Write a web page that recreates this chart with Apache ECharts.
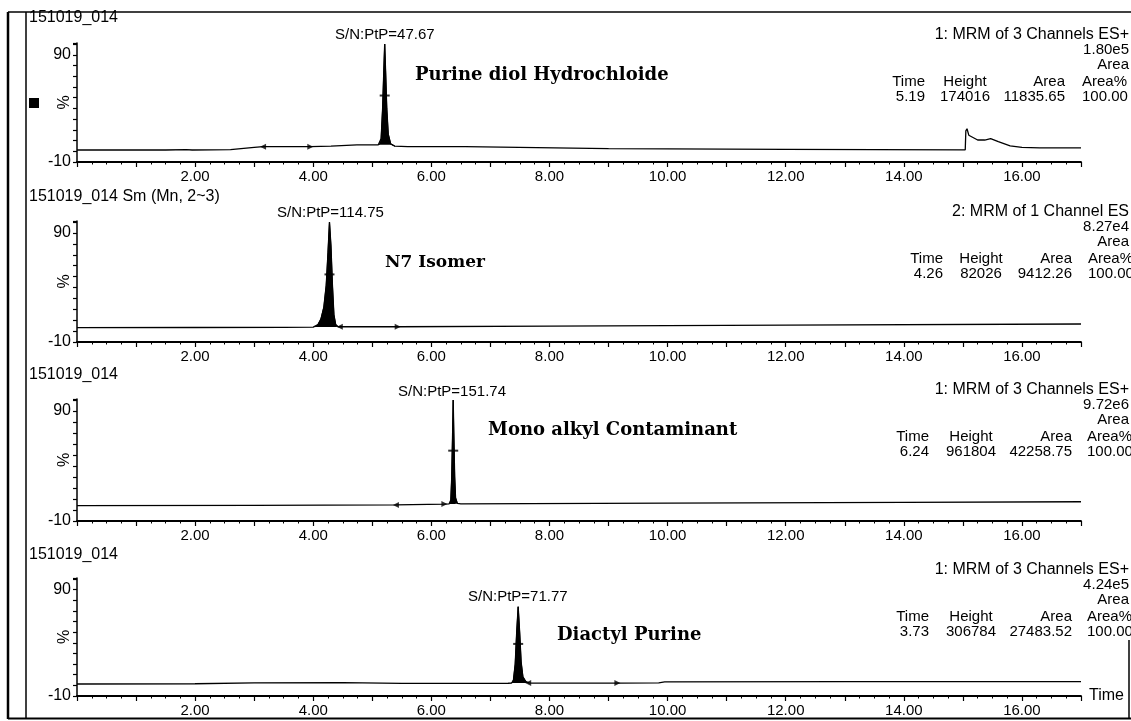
<!DOCTYPE html>
<html>
<head>
<meta charset="utf-8">
<script src="https://cdn.jsdelivr.net/npm/echarts@6/dist/echarts.min.js"></script>
<style>html,body{margin:0;padding:0;background:#fff}#c{width:1131px;height:721px}</style>
</head>
<body>
<div id="c"></div>
<script>
// ---------- DATA ----------
const xLabelValues = [2, 4, 6, 8, 10, 12, 14, 16];
const yLabelValues = [-10, 90];

const panelTitles = ['151019_014', '151019_014 Sm (Mn, 2~3)', '151019_014', '151019_014'];
const compoundNames = ['Purine diol Hydrochloide', 'N7 Isomer', 'Mono alkyl Contaminant', 'Diactyl Purine'];
const snLabels = ['S/N:PtP=47.67', 'S/N:PtP=114.75', 'S/N:PtP=151.74', 'S/N:PtP=71.77'];
const channelLabels = ['1: MRM of 3 Channels ES+', '2: MRM of 1 Channel ES', '1: MRM of 3 Channels ES+', '1: MRM of 3 Channels ES+'];
const intensities = ['1.80e5', '8.27e4', '9.72e6', '4.24e5'];
const peakTimes = ['5.19', '4.26', '6.24', '3.73'];
const peakHeights = ['174016', '82026', '961804', '306784'];
const peakAreas = ['11835.65', '9412.26', '42258.75', '27483.52'];
const peakAreaPct = ['100.00', '100.00', '100.00', '100.00'];

// panel 1 trace
const p1Before = [[0,1.2],[0.8,1.3],[1.5,1.2],[1.85,1.6],[1.95,1.2],[2.6,1.6],[3.0,3.6],[3.15,4.3],[3.95,4.3],[4.3,4.8],[4.74,5.9],[5.1,5.9]];
const p1Peak = [[5.12,6],[5.15,12],[5.175,40],[5.195,75],[5.21,100],[5.225,75],[5.245,40],[5.27,16],[5.31,7],[5.38,4.8]];
const p1After = [[5.6,4.4],[6.57,4.3],[6.59,2.8],[9,2.5],[12,1.8],[15.04,1.4],[15.05,19],[15.07,21],[15.1,15],[15.25,10.5],[15.37,10.5],[15.47,11.8],[15.6,9],[15.8,5],[16.0,3.6],[16.3,3.1],[17,3.1]];
// panel 2 trace
const p2Before = [[0,3.1],[2,3.3],[3.5,3.5],[4.0,3.6]];
const p2Peak = [[4.03,3.8],[4.08,6],[4.13,11],[4.18,22],[4.22,42],[4.25,72],[4.275,100],[4.3,78],[4.325,42],[4.35,15],[4.38,6],[4.42,4]];
const p2After = [[4.45,4.0],[5.43,4.0],[8,4.6],[12,5.5],[17,6.5]];
// panel 3 trace
const p3Before = [[0,4.0],[3,4.2],[5.4,4.6],[6.22,5.4],[6.3,5.5]];
const p3Peak = [[6.31,5.5],[6.33,9],[6.345,30],[6.36,70],[6.37,100],[6.38,70],[6.395,30],[6.41,11],[6.44,6]];
const p3After = [[6.5,5.6],[10,6.3],[14,7],[17,7.5]];
// panel 4 trace
const p4Before = [[0,1.3],[2,1.5],[3,2.3],[4.5,2.5],[5.5,1.8],[7.3,2.0]];
const p4Peak = [[7.36,2.2],[7.39,5],[7.42,20],[7.445,50],[7.47,74],[7.495,50],[7.52,22],[7.55,8],[7.6,3.5],[7.65,2.3]];
const p4After = [[7.7,2.2],[9.15,2.2],[9.85,2.4],[9.95,3.3],[13,3.5],[17,3.5]];

// integration markers
const startMarks = [[[3.15,4.3]], [[4.45,4.0]], [[5.4,4.6]], [[7.64,2.3]]];
const endMarks = [[[3.95,4.3]], [[5.43,4.0]], [[6.22,5.4]], [[9.15,2.2]]];
const apexMarks = [[[5.21,52]], [[4.275,52]], [[6.37,54]], [[7.47,39]]];

// ---------- LAYOUT / STYLE ----------
const gridTops = [43, 221, 399, 578];
const gridHeights = [119, 121, 122, 118];
const titleY = [18, 197, 375, 555];
const snPos = [[335,35],[277,213],[398,392],[468,597]];
const namePos = [[415,75],[385,263],[488,430],[557,635]];
const nameSizes = [18, 17, 18, 18];
const rightY = [35, 212, 390, 570];
const colTime = [925, 943, 929, 929];
const colHeight = [965, 981, 971, 971];
const colArea = [1065, 1072, 1072, 1072];
const colPct = [1082, 1088, 1087, 1087];

const SANS = 'Liberation Sans';
const traces = [
  p1Before.concat(p1Peak, p1After),
  p2Before.concat(p2Peak, p2After),
  p3Before.concat(p3Peak, p3After),
  p4Before.concat(p4Peak, p4After)
];
const peaks = [p1Peak, p2Peak, p3Peak, p4Peak];

const grids = [], xAxes = [], yAxes = [], series = [], graphics = [];
for (let i = 0; i < 4; i++) {
  grids.push({left: 77, width: 1004, top: gridTops[i], height: gridHeights[i]});
  xAxes.push({
    type: 'value', gridIndex: i, min: 0, max: 17, interval: 1,
    axisLine: {show: true, onZero: false, lineStyle: {color: '#000', width: 1.8}},
    axisTick: {show: true, length: 5, lineStyle: {color: '#000', width: 1.2}},
    minorTick: {show: true, splitNumber: 4, length: 2.5, lineStyle: {color: '#000', width: 1}},
    splitLine: {show: false},
    axisLabel: {
      color: '#000', fontFamily: SANS, fontSize: 15, margin: 7,
      formatter: v => xLabelValues.indexOf(Math.round(v)) >= 0 && Math.abs(v - Math.round(v)) < 1e-6 ? v.toFixed(2) : ''
    },
    name: i === 3 ? 'Time' : '',
    nameLocation: 'end', nameGap: 8, nameMoveOverlap: false,
    nameTextStyle: {color: '#000', fontFamily: SANS, fontSize: 16, verticalAlign: 'middle', padding: [0,0,6,0]}
  });
  yAxes.push({
    type: 'value', gridIndex: i, min: -10, max: 101, interval: 10,
    axisLine: {show: true, onZero: false, lineStyle: {color: '#000', width: 1.5}},
    axisTick: {show: true, length: 4, lineStyle: {color: '#000', width: 1.2}},
    splitLine: {show: false},
    axisLabel: {
      color: '#000', fontFamily: SANS, fontSize: 16, margin: 6,
      formatter: v => yLabelValues.indexOf(Math.round(v)) >= 0 ? String(Math.round(v)) : ''
    },
    name: '%', nameLocation: 'middle', nameRotate: 90, nameGap: 4, nameMoveOverlap: false,
    nameTextStyle: {color: '#000', fontFamily: SANS, fontSize: 16}
  });
  series.push({
    type: 'line', xAxisIndex: i, yAxisIndex: i, data: traces[i], showSymbol: false, symbol: 'none',
    lineStyle: {color: '#000', width: 1.3}, z: 3
  });
  series.push({
    type: 'line', xAxisIndex: i, yAxisIndex: i, data: peaks[i], showSymbol: false, symbol: 'none',
    lineStyle: {color: '#000', width: 1}, areaStyle: {color: '#000', opacity: 1, origin: peaks[i][0][1]}, z: 2
  });
  series.push({
    type: 'scatter', xAxisIndex: i, yAxisIndex: i, data: startMarks[i], symbol: 'triangle',
    symbolSize: [6, 6], symbolRotate: 90, itemStyle: {color: '#000'}, z: 4
  });
  series.push({
    type: 'scatter', xAxisIndex: i, yAxisIndex: i, data: endMarks[i], symbol: 'triangle',
    symbolSize: [6, 6], symbolRotate: -90, itemStyle: {color: '#000'}, z: 4
  });
  series.push({
    type: 'scatter', xAxisIndex: i, yAxisIndex: i, data: apexMarks[i], symbol: 'rect',
    symbolSize: [10, 2], itemStyle: {color: '#000'}, z: 4
  });

  const txt = (x, y, text, align, font) => ({
    type: 'text', x: x, y: y, silent: true,
    style: {text: text, fill: '#000', align: align, verticalAlign: 'middle', font: font || ('15px ' + SANS)}
  });
  graphics.push(txt(29, titleY[i], panelTitles[i], 'left', '16px ' + SANS));
  graphics.push(txt(snPos[i][0], snPos[i][1], snLabels[i], 'left', '15px ' + SANS));
  graphics.push(txt(namePos[i][0], namePos[i][1], compoundNames[i], 'left', 'bold ' + nameSizes[i] + 'px "DejaVu Serif"'));
  graphics.push(txt(1129, rightY[i], channelLabels[i], 'right', '16px ' + SANS));
  graphics.push(txt(1129, rightY[i] + 15, intensities[i], 'right'));
  graphics.push(txt(1129, rightY[i] + 30, 'Area', 'right'));
  graphics.push(txt(colTime[i], rightY[i] + 47, 'Time', 'right'));
  graphics.push(txt(colHeight[i], rightY[i] + 47, 'Height', 'center'));
  graphics.push(txt(colArea[i], rightY[i] + 47, 'Area', 'right'));
  graphics.push(txt(colPct[i], rightY[i] + 47, 'Area%', 'left'));
  graphics.push(txt(colTime[i], rightY[i] + 62, peakTimes[i], 'right'));
  graphics.push(txt(colHeight[i], rightY[i] + 62, peakHeights[i], 'center'));
  graphics.push(txt(colArea[i], rightY[i] + 62, peakAreas[i], 'right'));
  graphics.push(txt(colPct[i], rightY[i] + 62, peakAreaPct[i], 'left'));
}
// frame & legend square
const ln = (x1, y1, x2, y2, w) => ({type: 'line', silent: true, shape: {x1, y1, x2, y2}, style: {stroke: '#000', lineWidth: w}});
graphics.push(ln(8, 12, 8, 719, 2.5));
graphics.push(ln(26, 12, 26, 719, 1.5));
graphics.push(ln(8, 12, 1131, 12, 1.5));
graphics.push(ln(8, 718.5, 1131, 718.5, 1.8));
graphics.push(ln(1129, 640, 1129, 719, 1.5));
graphics.push({type: 'rect', silent: true, shape: {x: 29, y: 98, width: 10, height: 10}, style: {fill: '#000'}});

const chart = echarts.init(document.getElementById('c'), null, {renderer: 'canvas'});
chart.setOption({
  animation: false,
  backgroundColor: '#fff',
  grid: grids, xAxis: xAxes, yAxis: yAxes, series: series, graphic: graphics
});
</script>
</body>
</html>
